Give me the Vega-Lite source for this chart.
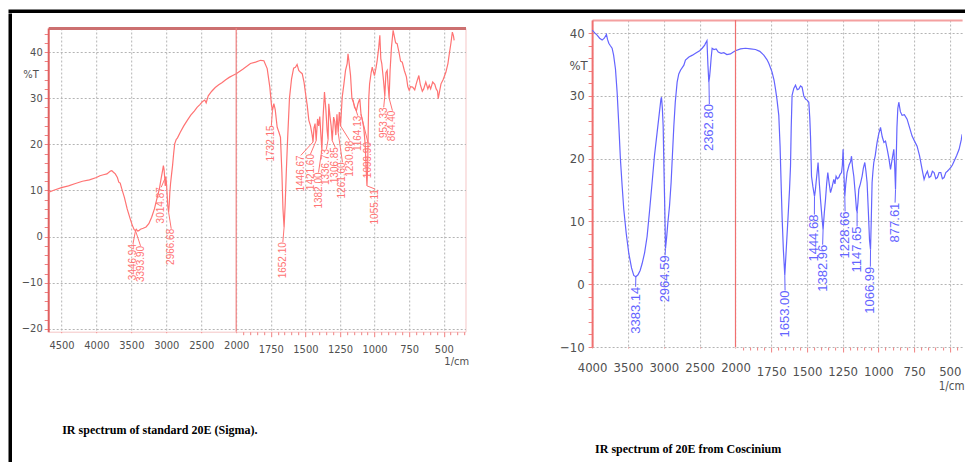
{
  "$schema": "https://vega.github.io/schema/vega-lite/v6.json",
  "background": "white",
  "padding": {"left": 8, "top": 9, "right": 0, "bottom": 0},
  "config": {
    "view": {"stroke": null},
    "axis": {"labelFont": "Liberation Sans Narrow, DejaVu Sans Condensed, sans-serif", "titleFont": "Liberation Sans Narrow, DejaVu Sans Condensed, sans-serif", "labelColor": "#505050", "titleColor": "#505050", "titleFontWeight": "normal"}
  },
  "datasets": {
    "leftSpec": [
      {"w":4690,"t":9.6},{"w":4600,"t":10.1},{"w":4500,"t":10.6},{"w":4400,"t":11.0},{"w":4300,"t":11.5},{"w":4200,"t":12.0},{"w":4100,"t":12.3},{"w":4000,"t":12.8},{"w":3950,"t":13.2},{"w":3900,"t":13.4},{"w":3850,"t":13.6},{"w":3800,"t":14.2},{"w":3780,"t":14.3},{"w":3760,"t":14.0},{"w":3730,"t":13.6},{"w":3700,"t":12.8},{"w":3680,"t":11.8},{"w":3660,"t":11.6},{"w":3640,"t":10.5},{"w":3600,"t":8.5},{"w":3560,"t":6.0},{"w":3520,"t":4.0},{"w":3490,"t":2.6},{"w":3460,"t":1.5},{"w":3441,"t":1.3},{"w":3430,"t":1.6},{"w":3410,"t":1.2},{"w":3394,"t":1.3},{"w":3370,"t":1.6},{"w":3330,"t":1.8},{"w":3290,"t":2.1},{"w":3250,"t":2.8},{"w":3210,"t":4.2},{"w":3170,"t":6.0},{"w":3130,"t":8.5},{"w":3100,"t":10.3},{"w":3075,"t":12.5},{"w":3055,"t":14.2},{"w":3042,"t":15.4},{"w":3032,"t":14.5},{"w":3022,"t":12.5},{"w":3015,"t":11.0},{"w":3008,"t":13.0},{"w":3000,"t":12.0},{"w":2990,"t":9.5},{"w":2978,"t":6.5},{"w":2967,"t":5.3},{"w":2958,"t":7.0},{"w":2950,"t":9.5},{"w":2940,"t":11.4},{"w":2925,"t":13.5},{"w":2910,"t":15.5},{"w":2895,"t":18.0},{"w":2880,"t":20.1},{"w":2860,"t":21.0},{"w":2840,"t":21.4},{"w":2800,"t":22.6},{"w":2750,"t":24.0},{"w":2700,"t":25.2},{"w":2650,"t":26.3},{"w":2600,"t":27.2},{"w":2560,"t":28.0},{"w":2520,"t":28.6},{"w":2480,"t":29.3},{"w":2450,"t":29.6},{"w":2430,"t":29.0},{"w":2400,"t":30.5},{"w":2350,"t":31.5},{"w":2300,"t":32.3},{"w":2250,"t":32.9},{"w":2200,"t":33.4},{"w":2150,"t":34.0},{"w":2100,"t":34.5},{"w":2050,"t":34.9},{"w":2000,"t":35.3},{"w":1950,"t":36.3},{"w":1897,"t":37.5},{"w":1860,"t":37.8},{"w":1824,"t":38.2},{"w":1800,"t":38.1},{"w":1776,"t":36.4},{"w":1757,"t":32.4},{"w":1745,"t":28.5},{"w":1738,"t":27.3},{"w":1728,"t":28.8},{"w":1718,"t":27.5},{"w":1704,"t":23.7},{"w":1690,"t":22.5},{"w":1680,"t":21.5},{"w":1670,"t":14.0},{"w":1662,"t":6.0},{"w":1654,"t":2.0},{"w":1646,"t":7.0},{"w":1638,"t":14.0},{"w":1628,"t":21.5},{"w":1615,"t":30.0},{"w":1600,"t":34.2},{"w":1585,"t":36.5},{"w":1572,"t":36.7},{"w":1560,"t":37.3},{"w":1548,"t":36.0},{"w":1535,"t":35.6},{"w":1523,"t":35.3},{"w":1510,"t":33.5},{"w":1499,"t":31.0},{"w":1487,"t":28.5},{"w":1475,"t":25.2},{"w":1463,"t":24.0},{"w":1451,"t":22.0},{"w":1445,"t":20.5},{"w":1438,"t":23.5},{"w":1430,"t":24.5},{"w":1422,"t":20.8},{"w":1412,"t":25.5},{"w":1404,"t":24.0},{"w":1396,"t":26.0},{"w":1388,"t":22.0},{"w":1381,"t":18.8},{"w":1372,"t":26.0},{"w":1362,"t":31.3},{"w":1352,"t":27.5},{"w":1343,"t":23.0},{"w":1336,"t":21.0},{"w":1331,"t":28.8},{"w":1322,"t":26.0},{"w":1314,"t":24.0},{"w":1306,"t":20.8},{"w":1296,"t":25.9},{"w":1288,"t":25.0},{"w":1280,"t":22.0},{"w":1272,"t":26.5},{"w":1263,"t":22.5},{"w":1255,"t":27.0},{"w":1246,"t":24.0},{"w":1234,"t":30.2},{"w":1222,"t":33.0},{"w":1210,"t":36.0},{"w":1198,"t":37.5},{"w":1192,"t":39.6},{"w":1186,"t":38.2},{"w":1174,"t":35.0},{"w":1164,"t":30.0},{"w":1155,"t":29.5},{"w":1145,"t":28.0},{"w":1131,"t":27.3},{"w":1120,"t":28.8},{"w":1107,"t":29.9},{"w":1098,"t":26.5},{"w":1088,"t":25.2},{"w":1078,"t":23.5},{"w":1068,"t":20.0},{"w":1060,"t":14.0},{"w":1055,"t":11.0},{"w":1050,"t":15.0},{"w":1046,"t":23.0},{"w":1042,"t":30.0},{"w":1036,"t":33.1},{"w":1025,"t":35.5},{"w":1017,"t":36.7},{"w":1001,"t":34.9},{"w":990,"t":36.5},{"w":981,"t":38.2},{"w":970,"t":41.0},{"w":962,"t":43.6},{"w":955,"t":38.5},{"w":948,"t":37.5},{"w":936,"t":34.0},{"w":926,"t":30.5},{"w":918,"t":35.5},{"w":909,"t":36.0},{"w":903,"t":33.0},{"w":895,"t":30.0},{"w":888,"t":36.0},{"w":878,"t":41.0},{"w":866,"t":44.7},{"w":858,"t":43.5},{"w":848,"t":42.0},{"w":837,"t":41.8},{"w":824,"t":40.0},{"w":812,"t":38.0},{"w":800,"t":37.8},{"w":785,"t":36.0},{"w":770,"t":34.6},{"w":760,"t":32.5},{"w":750,"t":31.7},{"w":740,"t":32.5},{"w":725,"t":32.4},{"w":710,"t":31.8},{"w":700,"t":33.0},{"w":690,"t":34.0},{"w":680,"t":34.9},{"w":670,"t":33.0},{"w":655,"t":31.5},{"w":645,"t":32.0},{"w":630,"t":33.5},{"w":615,"t":32.0},{"w":605,"t":32.8},{"w":595,"t":32.0},{"w":580,"t":33.5},{"w":565,"t":33.0},{"w":555,"t":32.0},{"w":545,"t":31.5},{"w":540,"t":29.9},{"w":530,"t":31.5},{"w":520,"t":33.1},{"w":505,"t":34.0},{"w":485,"t":35.6},{"w":470,"t":37.5},{"w":460,"t":39.6},{"w":448,"t":42.0},{"w":438,"t":44.3},{"w":430,"t":43.5},{"w":425,"t":42.5}
    ],
    "rightSpec": [
      {"w":4000,"t":40.5},{"w":3960,"t":40.0},{"w":3930,"t":39.7},{"w":3895,"t":39.2},{"w":3860,"t":38.9},{"w":3830,"t":39.2},{"w":3800,"t":39.8},{"w":3785,"t":39.0},{"w":3767,"t":38.4},{"w":3745,"t":38.0},{"w":3721,"t":37.6},{"w":3700,"t":36.5},{"w":3674,"t":34.3},{"w":3651,"t":30.6},{"w":3628,"t":25.5},{"w":3605,"t":19.9},{"w":3580,"t":15.5},{"w":3558,"t":11.9},{"w":3523,"t":8.0},{"w":3488,"t":4.9},{"w":3450,"t":2.6},{"w":3419,"t":1.4},{"w":3390,"t":1.2},{"w":3360,"t":1.5},{"w":3330,"t":2.2},{"w":3302,"t":3.3},{"w":3268,"t":5.0},{"w":3233,"t":7.6},{"w":3200,"t":11.5},{"w":3163,"t":16.2},{"w":3130,"t":20.5},{"w":3093,"t":24.2},{"w":3060,"t":27.5},{"w":3040,"t":29.5},{"w":3032,"t":29.8},{"w":3020,"t":28.0},{"w":3009,"t":25.2},{"w":2998,"t":18.5},{"w":2986,"t":11.9},{"w":2976,"t":5.7},{"w":2960,"t":7.5},{"w":2944,"t":9.7},{"w":2920,"t":12.5},{"w":2898,"t":16.2},{"w":2880,"t":20.5},{"w":2860,"t":25.2},{"w":2840,"t":29.0},{"w":2814,"t":32.2},{"w":2791,"t":33.5},{"w":2767,"t":34.1},{"w":2720,"t":34.9},{"w":2698,"t":35.7},{"w":2650,"t":36.2},{"w":2600,"t":36.5},{"w":2558,"t":36.8},{"w":2500,"t":37.2},{"w":2465,"t":37.6},{"w":2430,"t":38.1},{"w":2418,"t":38.4},{"w":2398,"t":38.8},{"w":2385,"t":35.0},{"w":2372,"t":32.2},{"w":2362,"t":33.0},{"w":2350,"t":34.5},{"w":2340,"t":36.0},{"w":2326,"t":37.6},{"w":2300,"t":37.4},{"w":2270,"t":37.5},{"w":2240,"t":37.0},{"w":2200,"t":36.8},{"w":2163,"t":36.9},{"w":2120,"t":36.6},{"w":2070,"t":36.7},{"w":2030,"t":37.0},{"w":2000,"t":37.2},{"w":1965,"t":37.5},{"w":1930,"t":37.6},{"w":1895,"t":37.5},{"w":1860,"t":37.4},{"w":1830,"t":37.1},{"w":1802,"t":36.5},{"w":1780,"t":35.8},{"w":1767,"t":35.2},{"w":1744,"t":33.8},{"w":1730,"t":32.5},{"w":1720,"t":31.1},{"w":1710,"t":29.5},{"w":1697,"t":26.9},{"w":1688,"t":22.0},{"w":1680,"t":15.5},{"w":1674,"t":10.8},{"w":1665,"t":5.5},{"w":1655,"t":1.4},{"w":1645,"t":5.5},{"w":1632,"t":10.8},{"w":1622,"t":15.0},{"w":1615,"t":18.8},{"w":1610,"t":25.0},{"w":1604,"t":30.1},{"w":1592,"t":31.2},{"w":1580,"t":31.7},{"w":1568,"t":31.0},{"w":1557,"t":31.1},{"w":1545,"t":31.6},{"w":1534,"t":31.4},{"w":1522,"t":30.0},{"w":1510,"t":29.5},{"w":1497,"t":29.3},{"w":1487,"t":29.0},{"w":1480,"t":26.5},{"w":1475,"t":23.6},{"w":1468,"t":17.2},{"w":1458,"t":15.5},{"w":1447,"t":14.0},{"w":1441,"t":15.0},{"w":1436,"t":16.2},{"w":1428,"t":18.0},{"w":1422,"t":19.4},{"w":1413,"t":16.0},{"w":1405,"t":13.5},{"w":1396,"t":11.0},{"w":1387,"t":8.7},{"w":1378,"t":11.5},{"w":1370,"t":13.5},{"w":1362,"t":16.0},{"w":1354,"t":17.8},{"w":1344,"t":16.0},{"w":1335,"t":14.6},{"w":1324,"t":15.5},{"w":1312,"t":16.7},{"w":1304,"t":16.0},{"w":1296,"t":17.2},{"w":1287,"t":16.8},{"w":1277,"t":17.0},{"w":1268,"t":17.5},{"w":1258,"t":17.8},{"w":1252,"t":19.0},{"w":1247,"t":21.5},{"w":1241,"t":17.5},{"w":1235,"t":14.0},{"w":1228,"t":16.0},{"w":1219,"t":17.8},{"w":1205,"t":19.0},{"w":1195,"t":19.5},{"w":1188,"t":20.4},{"w":1180,"t":18.5},{"w":1172,"t":17.2},{"w":1162,"t":14.5},{"w":1153,"t":11.8},{"w":1149,"t":11.6},{"w":1143,"t":13.0},{"w":1137,"t":15.1},{"w":1126,"t":16.0},{"w":1114,"t":17.2},{"w":1105,"t":18.5},{"w":1095,"t":19.4},{"w":1087,"t":18.0},{"w":1079,"t":16.2},{"w":1070,"t":11.5},{"w":1062,"t":7.0},{"w":1055,"t":5.5},{"w":1050,"t":10.0},{"w":1044,"t":16.2},{"w":1038,"t":18.0},{"w":1032,"t":19.4},{"w":1022,"t":20.5},{"w":1016,"t":21.5},{"w":1009,"t":22.6},{"w":997,"t":24.0},{"w":985,"t":25.0},{"w":973,"t":23.5},{"w":961,"t":22.6},{"w":950,"t":22.8},{"w":938,"t":21.5},{"w":926,"t":20.0},{"w":915,"t":18.3},{"w":903,"t":20.0},{"w":892,"t":21.5},{"w":886,"t":19.0},{"w":880,"t":15.1},{"w":875,"t":20.0},{"w":870,"t":25.0},{"w":864,"t":28.0},{"w":857,"t":29.0},{"w":846,"t":27.5},{"w":834,"t":26.9},{"w":818,"t":27.0},{"w":799,"t":26.3},{"w":782,"t":25.0},{"w":764,"t":23.6},{"w":747,"t":22.8},{"w":729,"t":22.0},{"w":712,"t":20.5},{"w":694,"t":18.3},{"w":680,"t":16.7},{"w":668,"t":17.5},{"w":657,"t":18.0},{"w":645,"t":17.0},{"w":633,"t":17.2},{"w":622,"t":18.0},{"w":610,"t":17.8},{"w":598,"t":16.8},{"w":587,"t":17.0},{"w":575,"t":17.8},{"w":563,"t":17.8},{"w":552,"t":16.8},{"w":540,"t":17.0},{"w":528,"t":17.8},{"w":517,"t":18.0},{"w":505,"t":18.3},{"w":493,"t":18.6},{"w":482,"t":19.0},{"w":470,"t":19.6},{"w":452,"t":20.5},{"w":435,"t":21.5},{"w":420,"t":23.0},{"w":414,"t":23.9}
    ],
    "leftPeaks": [
      {"lab":"3446.94","pk":3441,"pT":1.3,"lx":3477,"lT":-1.6},
      {"lab":"3393.90","pk":3441,"pT":1.3,"lx":3369,"lT":-2.0},
      {"lab":"3014.87","pk":3022,"pT":12.5,"lx":3073,"lT":10.7},
      {"lab":"2966.68","pk":2967,"pT":5.3,"lx":2930,"lT":1.7},
      {"lab":"1732.15","pk":1738,"pT":27.3,"lx":1746,"lT":24.1},
      {"lab":"1652.10","pk":1654,"pT":2.0,"lx":1663,"lT":-1.2},
      {"lab":"1446.67","pk":1445,"pT":20.5,"lx":1533,"lT":17.6},
      {"lab":"1421.60","pk":1422,"pT":20.8,"lx":1463,"lT":17.9},
      {"lab":"1382.00","pk":1381,"pT":18.8,"lx":1405,"lT":13.9},
      {"lab":"1336.73","pk":1336,"pT":21.0,"lx":1348,"lT":19.0},
      {"lab":"1306.85","pk":1306,"pT":20.8,"lx":1285,"lT":19.4},
      {"lab":"1261.60","pk":1263,"pT":22.5,"lx":1232,"lT":16.1},
      {"lab":"1230.98","pk":1246,"pT":24.0,"lx":1179,"lT":20.8},
      {"lab":"1164.13","pk":1164,"pT":30.0,"lx":1121,"lT":26.2},
      {"lab":"1099.90","pk":1098,"pT":26.5,"lx":1049,"lT":20.5},
      {"lab":"1055.11","pk":1055,"pT":11.0,"lx":996,"lT":10.3},
      {"lab":"953.33","pk":926,"pT":30.5,"lx":934,"lT":28.0},
      {"lab":"864.40","pk":895,"pT":30.0,"lx":871,"lT":27.3}
    ],
    "rightPeaks": [
      {"lab":"3383.14","pk":3390,"pT":1.2,"lx":3393,"lT":-0.4},
      {"lab":"2964.59","pk":2976,"pT":5.7,"lx":2982,"lT":4.6},
      {"lab":"2362.80","pk":2370,"pT":32.2,"lx":2365,"lT":28.7},
      {"lab":"1653.00","pk":1655,"pT":1.4,"lx":1653,"lT":-1.0},
      {"lab":"1444.68","pk":1447,"pT":14.0,"lx":1448,"lT":11.1},
      {"lab":"1382.96","pk":1387,"pT":8.7,"lx":1390,"lT":6.3},
      {"lab":"1228.66","pk":1235,"pT":14.0,"lx":1233,"lT":11.6},
      {"lab":"1147.65","pk":1149,"pT":11.6,"lx":1149,"lT":9.2},
      {"lab":"1066.99","pk":1055,"pT":5.5,"lx":1056,"lT":2.8},
      {"lab":"877.61","pk":880,"pT":15.1,"lx":883,"lT":13.0}
    ]
  },
  "vconcat": [
    {"width": 954, "height": 0.5, "data": {"values": []}, "mark": "point", "view": {"stroke": "black", "strokeWidth": 3}},
    {"hconcat": [
      {"width": 0.5, "height": 446.5, "data": {"values": []}, "mark": "point", "view": {"stroke": "black", "strokeWidth": 3}},
      {"hconcat": [
        {"vconcat": [
          {"width": 1, "height": 11, "data": {"values": []}, "mark": "point"},
          {
            "width": 417.3, "height": 303.7,
            "view": {"stroke": "#f5c6c6", "strokeWidth": 1},
            "title": {"text": "IR spectrum of standard 20E (Sigma).", "orient": "bottom", "anchor": "start", "frame": "group", "dx": 14, "offset": 59, "font": "Liberation Serif", "fontSize": 12, "fontWeight": "bold", "color": "#000000"},
            "layer": [
              {"data": {"name": "leftSpec"},
               "mark": {"type": "line", "color": "#ff7373", "strokeWidth": 1.2, "clip": true},
               "encoding": {
                 "x": {"field": "w", "type": "quantitative",
                       "scale": {"domain": [4690, 2000, 343], "range": [0, 188, 417.3], "nice": false, "zero": false},
                       "axis": {"values": [4600,4500,4400,4300,4200,4100,4000,3900,3800,3700,3600,3500,3400,3300,3200,3100,3000,2900,2800,2700,2600,2500,2400,2300,2200,2100,2000,1950,1900,1850,1800,1750,1700,1650,1600,1550,1500,1450,1400,1350,1300,1250,1200,1150,1100,1050,1000,950,900,850,800,750,700,650,600,550,500,450,400,350],
                                "format": "d",
                                "labelExpr": "(datum.value >= 2000 ? datum.value % 500 === 0 : datum.value % 250 === 0) ? datum.label : ''",
                                "labelOverlap": false, "labelFlush": false, "labelFontSize": 11, "labelPadding": 7,
                                "grid": true, "gridColor": "#b4b4b4", "gridDash": [2, 2],
                                "gridOpacity": {"condition": {"test": "datum.value >= 2000 ? datum.value % 500 === 0 : datum.value % 250 === 0", "value": 1}, "value": 0},
                                "domain": false, "tickColor": "#f08080",
                                "tickSize": {"condition": {"test": "datum.value >= 2000 ? datum.value % 500 === 0 : datum.value % 250 === 0", "value": 5}, "value": 3},
                                "title": "1/cm", "titleX": 408, "titleY": 29.5, "titleAlign": "center", "titleBaseline": "middle", "titleFontSize": 11}},
                 "y": {"field": "t", "type": "quantitative",
                       "scale": {"domain": [-20.6, 45.2], "nice": false, "zero": false},
                       "axis": {"values": [-20,-18,-16,-14,-12,-10,-8,-6,-4,-2,0,2,4,6,8,10,12,14,16,18,20,22,24,26,28,30,32,34,36,38,40,42,44],
                                "format": "d",
                                "labelExpr": "datum.value % 10 === 0 ? datum.label : ''",
                                "labelOverlap": false, "labelFontSize": 11, "labelPadding": 2,
                                "grid": true, "gridColor": "#b4b4b4", "gridDash": [2, 2],
                                "gridOpacity": {"condition": {"test": "datum.value % 10 === 0", "value": 1}, "value": 0},
                                "domainColor": "#e06060", "domainWidth": 2, "tickColor": "#f08080", "tickSize": 4,
                                "title": "%T", "titleAngle": 0, "titleX": -17.7, "titleY": 46, "titleAlign": "center", "titleBaseline": "middle", "titleFontSize": 11}}
               }},
              {"data": {"values": [{"w": 2000}]},
               "mark": {"type": "rule", "color": "#f08080", "strokeWidth": 1.2},
               "encoding": {
                 "x": {"field": "w", "type": "quantitative",
                       "scale": {"domain": [4690, 2000, 343], "range": [0, 188, 417.3], "nice": false, "zero": false},
                       "axis": {"orient": "top", "domain": true, "domainColor": "#cc7070", "domainWidth": 3, "ticks": false, "labels": false, "grid": false, "title": null}}
               }},
              {"data": {"name": "leftPeaks"},
               "mark": {"type": "rule", "color": "#ff7373", "strokeWidth": 1},
               "encoding": {
                 "x": {"field": "pk", "type": "quantitative", "scale": {"domain": [4690, 2000, 343], "range": [0, 188, 417.3], "nice": false, "zero": false}, "axis": null},
                 "x2": {"field": "lx"},
                 "y": {"field": "pT", "type": "quantitative", "scale": {"domain": [-20.6, 45.2], "nice": false, "zero": false}, "axis": null},
                 "y2": {"field": "lT"}
               }},
              {"data": {"name": "leftPeaks"},
               "mark": {"type": "text", "angle": 270, "align": "right", "baseline": "middle", "color": "#ff7373", "fontSize": 10, "font": "Liberation Sans"},
               "encoding": {
                 "x": {"field": "lx", "type": "quantitative", "scale": {"domain": [4690, 2000, 343], "range": [0, 188, 417.3], "nice": false, "zero": false}, "axis": null},
                 "y": {"field": "lT", "type": "quantitative", "scale": {"domain": [-20.6, 45.2], "nice": false, "zero": false}, "axis": null},
                 "text": {"field": "lab"}
               }}
            ],
            "resolve": {"axis": {"x": "independent", "y": "independent"}}
          }
        ], "spacing": 0, "align": "each"},
        {"vconcat": [
          {"width": 1, "height": 4, "data": {"values": []}, "mark": "point"},
          {
            "width": 370, "height": 327,
            "title": {"text": "IR spectrum of 20E from Coscinium", "orient": "bottom", "anchor": "start", "frame": "group", "dx": 3, "offset": 52.8, "font": "Liberation Serif", "fontSize": 12, "fontWeight": "bold", "color": "#000000"},
            "layer": [
              {"data": {"name": "rightSpec"},
               "mark": {"type": "line", "color": "#6464ff", "strokeWidth": 1.2, "clip": true},
               "encoding": {
                 "x": {"field": "w", "type": "quantitative",
                       "scale": {"domain": [4000, 2000, 414], "range": [0, 143.4, 370], "nice": false, "zero": false},
                       "axis": {"values": [4000,3900,3800,3700,3600,3500,3400,3300,3200,3100,3000,2900,2800,2700,2600,2500,2400,2300,2200,2100,2000,1950,1900,1850,1800,1750,1700,1650,1600,1550,1500,1450,1400,1350,1300,1250,1200,1150,1100,1050,1000,950,900,850,800,750,700,650,600,550,500,450],
                                "format": "d",
                                "labelExpr": "(datum.value >= 2000 ? datum.value % 500 === 0 : datum.value % 250 === 0) ? datum.label : ''",
                                "labelOverlap": false, "labelFlush": false, "labelFontSize": 13, "labelPadding": 13,
                                "grid": true, "gridColor": "#b4b4b4", "gridDash": [2, 2],
                                "gridOpacity": {"condition": {"test": "datum.value >= 2000 ? datum.value % 500 === 0 : datum.value % 250 === 0", "value": 1}, "value": 0},
                                "domain": false, "tickColor": "#f08080",
                                "tickSize": {"condition": {"test": "datum.value >= 2000 ? datum.value % 500 === 0 : datum.value % 250 === 0", "value": 5}, "value": 3},
                                "title": "1/cm", "titleX": 359, "titleY": 39, "titleAlign": "center", "titleBaseline": "middle", "titleFontSize": 11.5}},
                 "y": {"field": "t", "type": "quantitative",
                       "scale": {"domain": [-10, 42.1], "nice": false, "zero": false},
                       "axis": {"values": [-10,-8,-6,-4,-2,0,2,4,6,8,10,12,14,16,18,20,22,24,26,28,30,32,34,36,38,40],
                                "format": "d",
                                "labelExpr": "datum.value % 10 === 0 ? datum.label : ''",
                                "labelOverlap": false, "labelFontSize": 13, "labelPadding": 4,
                                "grid": true, "gridColor": "#b4b4b4", "gridDash": [2, 2],
                                "gridOpacity": {"condition": {"test": "datum.value % 10 === 0", "value": 1}, "value": 0},
                                "domainColor": "#f07070", "domainWidth": 2, "tickColor": "#f08080", "tickSize": 4,
                                "title": "%T", "titleAngle": 0, "titleX": -14, "titleY": 45, "titleAlign": "center", "titleBaseline": "middle", "titleFontSize": 13}}
               }},
              {"data": {"values": [{"w": 2000}]},
               "mark": {"type": "rule", "color": "#f07070", "strokeWidth": 1.2},
               "encoding": {
                 "x": {"field": "w", "type": "quantitative",
                       "scale": {"domain": [4000, 2000, 414], "range": [0, 143.4, 370], "nice": false, "zero": false},
                       "axis": {"orient": "top", "domain": true, "domainColor": "#f4a0a0", "domainWidth": 2, "ticks": false, "labels": false, "grid": false, "title": null}}
               }},
              {"data": {"name": "rightPeaks"},
               "mark": {"type": "rule", "color": "#6464ff", "strokeWidth": 1},
               "encoding": {
                 "x": {"field": "pk", "type": "quantitative", "scale": {"domain": [4000, 2000, 414], "range": [0, 143.4, 370], "nice": false, "zero": false}, "axis": null},
                 "x2": {"field": "lx"},
                 "y": {"field": "pT", "type": "quantitative", "scale": {"domain": [-10, 42.1], "nice": false, "zero": false}, "axis": null},
                 "y2": {"field": "lT"}
               }},
              {"data": {"name": "rightPeaks"},
               "mark": {"type": "text", "angle": 270, "align": "right", "baseline": "middle", "color": "#6464ff", "fontSize": 13, "font": "Liberation Sans"},
               "encoding": {
                 "x": {"field": "lx", "type": "quantitative", "scale": {"domain": [4000, 2000, 414], "range": [0, 143.4, 370], "nice": false, "zero": false}, "axis": null},
                 "y": {"field": "lT", "type": "quantitative", "scale": {"domain": [-10, 42.1], "nice": false, "zero": false}, "axis": null},
                 "text": {"field": "lab"}
               }}
            ],
            "resolve": {"axis": {"x": "independent", "y": "independent"}}
          }
        ], "spacing": 0, "align": "each"}
      ], "spacing": 89.9, "align": "each"}
    ], "spacing": 8.2, "align": "each"}
  ],
  "spacing": 0,
  "align": "each"
}
